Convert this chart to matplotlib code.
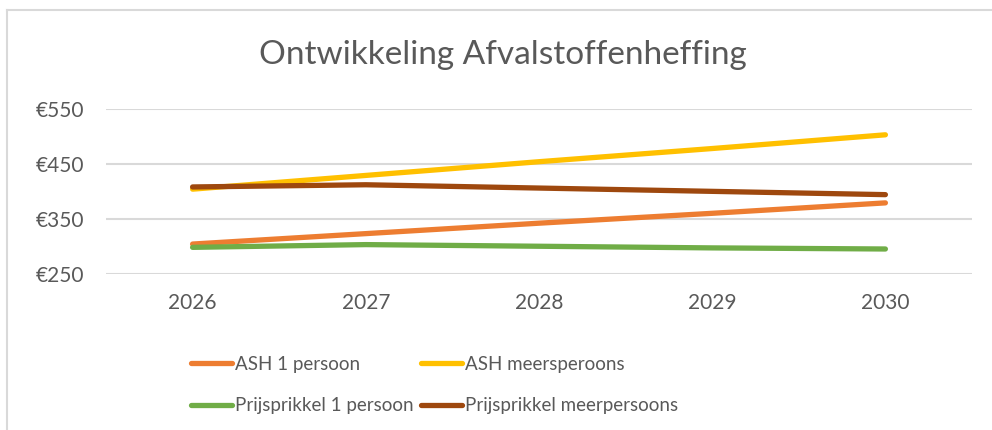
import matplotlib
matplotlib.use("Agg")
import matplotlib.pyplot as plt
from matplotlib.lines import Line2D

years = ["2026", "2027", "2028", "2029", "2030"]
ash_1 = [304, 323, 342, 360, 379]
ash_meer = [404, 429, 454, 478, 503]
prijs_1 = [298, 303, 300, 297, 295]
prijs_meer = [408, 412, 406, 400, 394]

series = [
    ("ASH 1 persoon", ash_1, "#ED7D31"),
    ("ASH meersperoons", ash_meer, "#FFC000"),
    ("Prijsprikkel 1 persoon", prijs_1, "#70AD47"),
    ("Prijsprikkel meerpersoons", prijs_meer, "#9E480E"),
]
yticks = [250, 350, 450, 550]
txt = "#595959"
plt.rcParams["font.family"] = ["Lato", "DejaVu Sans"]

W, H = 992, 430
fig = plt.figure(figsize=(W / 100, H / 100), dpi=100, facecolor="white")
ax = fig.add_axes([106 / W, 1 - 273.7 / H, (972 - 106) / W, (273.7 - 109) / H])

x = range(len(years))
for name, vals, c in series:
    ax.plot(x, vals, color=c, lw=3.8, solid_capstyle="round", label=name)

ax.set_xlim(-0.5, len(years) - 0.5)
ax.set_ylim(250, 550)
ax.set_yticks(yticks)
ax.set_yticklabels([f"€{v}" for v in yticks])
ax.set_xticks(list(x))
ax.set_xticklabels(years)
ax.grid(axis="y", color="#D9D9D9", lw=1.5)
ax.set_axisbelow(True)
for s in ax.spines.values():
    s.set_visible(False)
ax.tick_params(length=0, colors=txt, labelsize=15)
ax.tick_params(axis="y", pad=16)
ax.tick_params(axis="x", pad=14)

fig.text(503 / W, 1 - 55 / H, "Ontwikkeling Afvalstoffenheffing", ha="center", va="center",
         fontsize=24, color=txt)

# chart frame (right/bottom edges cut off in the source)
fig.add_artist(Line2D([7 / W, 7 / W], [0, 1 - 10 / H], color="#D9D9D9", lw=1.5, transform=fig.transFigure))
fig.add_artist(Line2D([7 / W, 1], [1 - 10 / H, 1 - 10 / H], color="#D9D9D9", lw=1.5, transform=fig.transFigure))

# legend is filled row by row in the source
handles, labels = ax.get_legend_handles_labels()
order = [0, 2, 1, 3]
fig.legend([handles[i] for i in order], [labels[i] for i in order], ncol=2, loc="upper left",
           bbox_to_anchor=(174 / W, 1 - 339 / H), frameon=False, fontsize=13.5, labelcolor=txt,
           handlelength=2.2, handletextpad=0.15, columnspacing=0.4, labelspacing=1.3)

fig.savefig("out.png", dpi=100)
